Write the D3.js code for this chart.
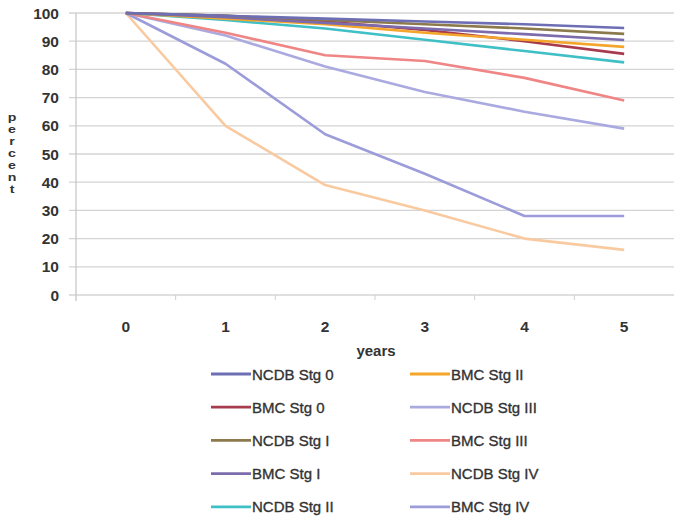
<!DOCTYPE html>
<html><head><meta charset="utf-8">
<script src="https://cdn.jsdelivr.net/npm/d3@7"></script>
<style>body{margin:0;background:#fff;}</style>
</head><body>
<svg id="c" width="674" height="531"></svg>
<script>
const years = ["0","1","2","3","4","5"];
const yTicks = [0,10,20,30,40,50,60,70,80,90,100];
const seriesNames = ["NCDB Stg 0","BMC Stg 0","NCDB Stg I","BMC Stg I","NCDB Stg II","BMC Stg II","NCDB Stg III","BMC Stg III","NCDB Stg IV","BMC Stg IV"];
const ncdb0  = [100, 99, 98, 97, 96, 94.7];
const bmc0   = [100, 99, 97, 94, 90, 85.5];
const ncdb1  = [100, 99, 97.5, 96, 94.5, 92.6];
const bmc1   = [100, 98.5, 96.5, 94.5, 92.5, 90.4];
const ncdb2  = [100, 97.5, 94.5, 90.5, 86.5, 82.5];
const bmc2   = [100, 98, 96, 93, 90.5, 88];
const ncdb3  = [100, 92, 81, 72, 65, 59];
const bmc3   = [100, 93, 85, 83, 77, 69];
const ncdb4  = [100, 60, 39, 30, 20, 16];
const bmc4   = [100, 82, 57, 43, 28, 28];
const seriesValues = [ncdb0,bmc0,ncdb1,bmc1,ncdb2,bmc2,ncdb3,bmc3,ncdb4,bmc4];
const colors = ["#6e6eb4","#a83a4e","#8c7a4c","#7c6cae","#3fbfc6","#f4a62a","#aaaae0","#ef8585","#f9caa0","#9c9cda"];

const svg = d3.select("#c");
const mLeft = 76, mRight = 674, mTop = 13, mBottom = 295;
const x = d3.scaleBand().domain(years).range([mLeft, mRight]);
const y = d3.scaleLinear().domain([0,100]).range([mBottom, mTop]);
const txt = "#333";
const font = "'Liberation Sans', Arial, sans-serif";

// gridlines
svg.append("g").selectAll("line").data(yTicks).join("line")
  .attr("x1", mLeft-7).attr("x2", mRight).attr("y1", d=>y(d)).attr("y2", d=>y(d))
  .attr("stroke", "#d4d4d4").attr("stroke-width", 1.3);
// y axis line
svg.append("line").attr("x1", mLeft).attr("x2", mLeft).attr("y1", mTop).attr("y2", mBottom+6)
  .attr("stroke", "#c8c8c8").attr("stroke-width", 1.3);
// x ticks between categories
svg.append("g").selectAll("line").data(years.slice(1)).join("line")
  .attr("x1", d=>x(d)).attr("x2", d=>x(d)).attr("y1", mBottom).attr("y2", mBottom+5)
  .attr("stroke", "#d0d0d0");

// y labels
svg.append("g").selectAll("text").data(yTicks).join("text")
  .attr("x", 59).attr("y", d=>y(d)+5.5).attr("text-anchor","end")
  .attr("font-family", font).attr("font-weight","bold").attr("font-size", 15.5).attr("fill", txt)
  .text(d=>d);
// x labels
svg.append("g").selectAll("text").data(years).join("text")
  .attr("x", d=>x(d)+x.bandwidth()/2).attr("y", 332).attr("text-anchor","middle")
  .attr("font-family", font).attr("font-weight","bold").attr("font-size", 15.5).attr("fill", txt)
  .text(d=>d);

// axis title "percent" as stacked upright letters
const letters = "percent".split("");
svg.append("g").selectAll("text").data(letters).join("text")
  .attr("transform", (d,i)=>`translate(12,${121 + i*12}) scale(1.35,1)`)
  .attr("text-anchor","middle").attr("font-family", font).attr("font-weight","bold")
  .attr("font-size", 10.5).attr("fill", txt).text(d=>d);

svg.append("text").attr("x", 376).attr("y", 356).attr("text-anchor","middle")
  .attr("font-family", font).attr("font-weight","bold").attr("font-size", 15).attr("fill", txt).text("years");

// lines
const line = d3.line().x((d,i)=>x(years[i])+x.bandwidth()/2).y(d=>y(d));
const order = [8,9,6,7,4,1,5,3,2,0];
svg.append("g").selectAll("path").data(order).join("path")
  .attr("d", i=>line(seriesValues[i])).attr("fill","none")
  .attr("stroke", i=>colors[i]).attr("stroke-width", 2.6).attr("stroke-linejoin","round");

// legend
const lg = svg.append("g");
seriesNames.forEach((n,i)=>{
  const col = i < 5 ? 0 : 1, row = i % 5;
  const lx = col === 0 ? 211 : 410;
  const ly = 374 + row*33.2;
  lg.append("line").attr("x1", lx).attr("x2", lx+40).attr("y1", ly).attr("y2", ly)
    .attr("stroke", colors[i]).attr("stroke-width", 2.8);
  lg.append("text").attr("x", lx+41).attr("y", ly+5.5).attr("font-family", font)
    .attr("font-size", 15).attr("fill", txt).attr("stroke", txt).attr("stroke-width", 0.35).text(n);
});
</script>
</body></html>
